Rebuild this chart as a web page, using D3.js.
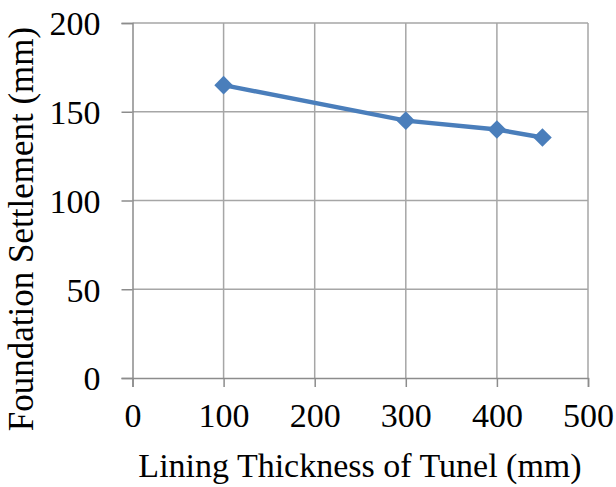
<!DOCTYPE html>
<html>
<head>
<meta charset="utf-8">
<script src="https://cdn.jsdelivr.net/npm/d3@7"></script>
<style>
  body { margin: 0; background: #fff; }
  text { font-family: "Liberation Serif", "Times New Roman", Times, serif; fill: #000; }
</style>
</head>
<body>
<svg id="chart" width="616" height="487"></svg>
<script>
const thickness = [100, 300, 400, 450];
const settlement = [165, 145, 140, 135.5];
const xTicks = [0, 100, 200, 300, 400, 500];
const yTicks = [0, 50, 100, 150, 200];

const margin = { left: 132.5, right: 28, top: 23, bottom: 109 };
const W = 616, H = 487;
const FONT = "'Liberation Serif', 'Times New Roman', Times, serif";

const svg = d3.select("#chart");

const x = d3.scaleLinear().domain([0, 500]).range([margin.left, W - margin.right]);
const y = d3.scaleLinear().domain([0, 200]).range([H - margin.bottom, margin.top]);

// gridlines
svg.append("g")
  .selectAll("line")
  .data(xTicks.slice(1))
  .enter()
  .append("line")
  .attr("x1", d => x(d)).attr("x2", d => x(d))
  .attr("y1", y(200)).attr("y2", y(0))
  .attr("stroke", "#a6a6a6").attr("stroke-width", 1.5);

svg.append("g")
  .selectAll("line")
  .data(yTicks.slice(1))
  .enter()
  .append("line")
  .attr("x1", x(0)).attr("x2", x(500))
  .attr("y1", d => y(d)).attr("y2", d => y(d))
  .attr("stroke", "#a6a6a6").attr("stroke-width", 1.5);

// axes
const xAxis = svg.append("g")
  .attr("transform", `translate(0,${y(0)})`)
  .call(d3.axisBottom(x).tickValues(xTicks).tickSize(9).tickPadding(16));
const yAxis = svg.append("g")
  .attr("transform", `translate(${x(0)},0)`)
  .call(d3.axisLeft(y).tickValues(yTicks).tickSize(11).tickPadding(21));

[xAxis, yAxis].forEach(g => {
  g.attr("font-family", FONT).attr("font-size", 34);
  g.select(".domain").attr("stroke", "#8c8c8c").attr("stroke-width", 1.5);
  g.selectAll(".tick line").attr("stroke", "#8c8c8c").attr("stroke-width", 1.5);
  g.selectAll(".tick text").attr("fill", "#000");
});
yAxis.selectAll(".tick text").attr("dy", "0.35em");

// line + markers
const pts = thickness.map((t, i) => [t, settlement[i]]);
svg.append("path")
  .datum(pts)
  .attr("fill", "none")
  .attr("stroke", "#4a7ebb")
  .attr("stroke-width", 4.5)
  .attr("d", d3.line().x(d => x(d[0])).y(d => y(d[1])));

svg.append("g")
  .selectAll("path")
  .data(pts)
  .enter()
  .append("path")
  .attr("transform", d => `translate(${x(d[0])},${y(d[1])})`)
  .attr("d", d3.symbol().type(d3.symbolDiamond2).size(220))
  .attr("fill", "#4a7ebb");

// titles
svg.append("text")
  .attr("x", 360)
  .attr("y", 477)
  .attr("text-anchor", "middle")
  .attr("font-family", FONT)
  .attr("font-size", 34)
  .text("Lining Thickness of Tunel (mm)");

svg.append("text")
  .attr("transform", "translate(33,229) rotate(-90)")
  .attr("text-anchor", "middle")
  .attr("font-family", FONT)
  .attr("font-size", 35)
  .text("Foundation Settlement (mm)");
</script>
</body>
</html>
